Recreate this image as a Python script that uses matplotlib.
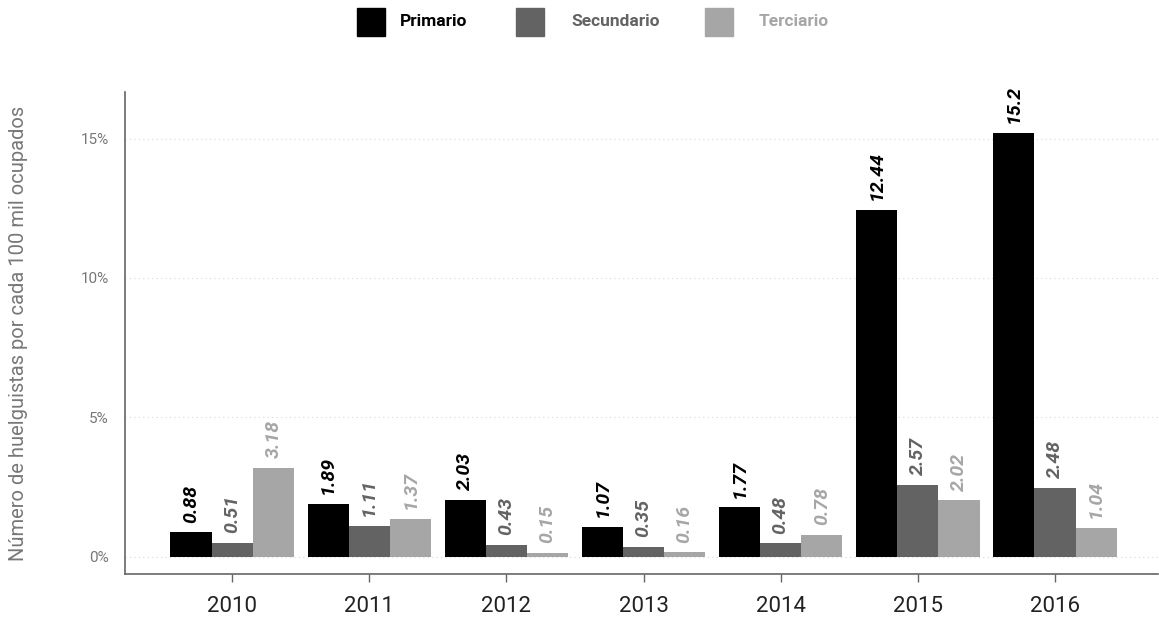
import numpy as np
import matplotlib
matplotlib.use("Agg")
import matplotlib.pyplot as plt
from matplotlib.patches import Rectangle

plt.rcParams['font.family'] = ['Roboto', 'DejaVu Sans']

# Data
years = ['2010', '2011', '2012', '2013', '2014', '2015', '2016']
primario = [0.88, 1.89, 2.03, 1.07, 1.77, 12.44, 15.2]
secundario = [0.51, 1.11, 0.43, 0.35, 0.48, 2.57, 2.48]
terciario = [3.18, 1.37, 0.15, 0.16, 0.78, 2.02, 1.04]
series_names = ['Primario', 'Secundario', 'Terciario']
bar_colors = ['#000000', '#636363', '#a6a6a6']
text_colors = ['#000000', '#636363', '#a6a6a6']

fig = plt.figure(figsize=(11.59, 6.17), dpi=100)
ax = fig.add_axes([0.108, 0.070, 0.891, 0.781])

x = np.arange(len(years))
w = 0.3
for i, (vals, col, tcol) in enumerate(zip([primario, secundario, terciario], bar_colors, text_colors)):
    pos = x + (i - 1) * w
    ax.bar(pos, vals, width=w, color=col, zorder=2)
    for px, v in zip(pos, vals):
        ax.annotate(f'{v:g}', (px, v), xytext=(0, 7), textcoords='offset points',
                    ha='center', va='bottom', rotation=90, color=tcol,
                    fontsize=14, fontweight='bold', fontstyle='italic')

ax.set_xlim(-0.78, 6.75)
ax.set_ylim(-0.61, 16.67)
ax.set_yticks([0, 5, 10, 15])
ax.set_yticklabels(['0%', '5%', '10%', '15%'])
ax.set_xticks(x)
ax.set_xticklabels(years)

ax.grid(axis='y', color='#d8d8d8', linestyle=(0, (1, 3)), linewidth=0.8, zorder=0)
ax.tick_params(axis='y', length=0, pad=12, labelsize=11, labelcolor='#777777')
ax.tick_params(axis='x', length=6, width=1, color='#666666', pad=10,
               labelsize=16, labelcolor='#222222')

for s in ['top', 'right']:
    ax.spines[s].set_visible(False)
for s in ['left', 'bottom']:
    ax.spines[s].set_color('#666666')
    ax.spines[s].set_linewidth(1.2)

fig.text(0.016, 0.459, 'Número de huelguistas por cada 100 mil ocupados', rotation=90,
         ha='center', va='center', fontsize=14.5, color='#777777')

# Legend
leg_x = [357, 516, 705]
txt_x = [400, 571, 759]
W, H = 1159, 617
for lx, tx, name, col, tcol in zip(leg_x, txt_x, series_names, bar_colors, ['#000000', '#636363', '#a6a6a6']):
    fig.add_artist(Rectangle((lx / W, (H - 36) / H), 28 / W, 28 / H,
                             transform=fig.transFigure, color=col))
    fig.text(tx / W, (H - 22) / H, name, ha='left', va='center',
             fontsize=12.5, fontweight='bold', color=tcol)

fig.savefig('out.png', dpi=100)
